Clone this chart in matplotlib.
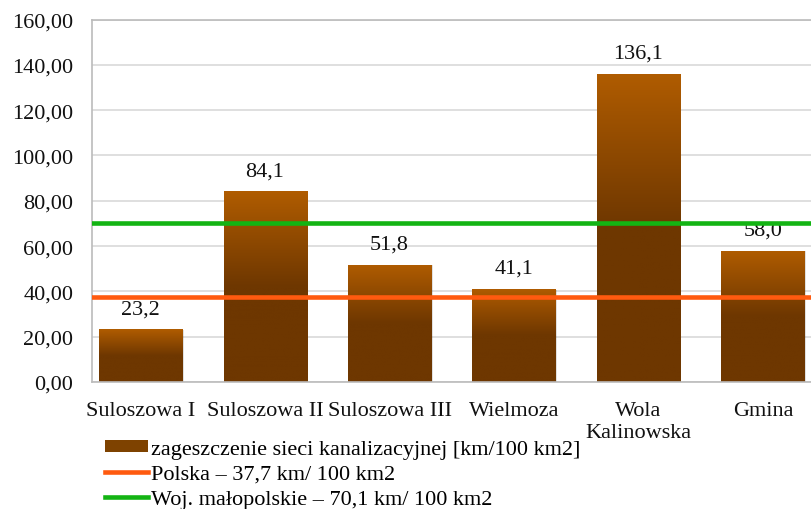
import matplotlib
matplotlib.use("Agg")
import matplotlib.pyplot as plt
import numpy as np
from matplotlib.patches import Patch
from matplotlib.lines import Line2D
from matplotlib.colors import LinearSegmentedColormap

categories = ["Suloszowa I", "Suloszowa II", "Suloszowa III", "Wielmoza", "Wola\nKalinowska", "Gmina"]
values = [23.2, 84.1, 51.8, 41.1, 136.1, 58.0]
value_labels = ["23,2", "84,1", "51,8", "41,1", "136,1", "58,0"]
polska = 37.7
malopolska = 70.1
yticks = [0, 20, 40, 60, 80, 100, 120, 140, 160]
ytick_labels = ["0,00", "20,00", "40,00", "60,00", "80,00", "100,00", "120,00", "140,00", "160,00"]
legend_labels = ["zageszczenie sieci kanalizacyjnej [km/100 km2]",
                 "Polska – 37,7 km/ 100 km2",
                 "Woj. małopolskie – 70,1 km/ 100 km2"]

plt.rcParams['font.family'] = ['Liberation Serif', 'DejaVu Serif']
FS = 16

fig = plt.figure(figsize=(8.11, 5.10), dpi=100)
ax = fig.add_axes([92/811, 1-383/510, (811-92)/811, (383-20.5)/510])

x = np.arange(len(categories))
bars = ax.bar(x, values, width=0.667, color="#6E3700", zorder=2)

cmap = LinearSegmentedColormap.from_list("br", [(0, "#6E3700"), (0.5, "#6E3700"), (1.0, "#B05C00")])
grad = np.linspace(0, 1, 256).reshape(-1, 1)
for b in bars:
    x0, w, h = b.get_x(), b.get_width(), b.get_height()
    im = ax.imshow(grad, extent=[x0, x0 + w, 0, h], origin="lower", aspect="auto",
                   cmap=cmap, zorder=2.1)
    im.set_clip_path(b)
    ax.add_patch(plt.Rectangle((x0 + 0.012, 0), w, h - 0.3, color="#000000", alpha=0.12, zorder=1.9, lw=0))

for xi, v, lab in zip(x, values, value_labels):
    ax.annotate(lab, (xi, v), xytext=(0, 8), textcoords="offset points",
                ha="center", va="bottom", fontsize=FS, color="#111111", zorder=3)

ax.axhline(polska, color="#FF5A0F", lw=3.3, zorder=4)
ax.axhline(malopolska, color="#13B413", lw=3.3, zorder=4)

ax.set_xlim(-0.39, 5.386)
ax.set_ylim(0, 160)
ax.set_yticks(yticks)
ax.set_yticklabels(ytick_labels, fontsize=FS)
ax.set_xticks(x)
ax.set_xticklabels(categories, fontsize=FS, linespacing=1.15)
ax.tick_params(axis="both", length=0, colors="#111111")
ax.tick_params(axis="y", pad=13.5)
ax.tick_params(axis="x", pad=14)
ax.yaxis.grid(True, color="#D9D9D9", lw=1.2, zorder=0)
ax.set_axisbelow(True)
for s in ["left", "bottom", "top"]:
    ax.spines[s].set_color("#BBBBBB")
    ax.spines[s].set_linewidth(1.2)
ax.spines["right"].set_visible(False)

handles = [Patch(facecolor="#7E4200", edgecolor="none"),
           Line2D([0], [0], color="#FF5A0F", lw=3.3),
           Line2D([0], [0], color="#13B413", lw=3.3)]
leg = fig.legend(handles, legend_labels, loc="upper left", bbox_to_anchor=(105/811, 1-441/510),
                 frameon=False, fontsize=FS, handlelength=1.93, handleheight=0.45,
                 handletextpad=0.13, labelspacing=0.26, borderpad=0, borderaxespad=0)

fig.savefig("out.png", dpi=100)
